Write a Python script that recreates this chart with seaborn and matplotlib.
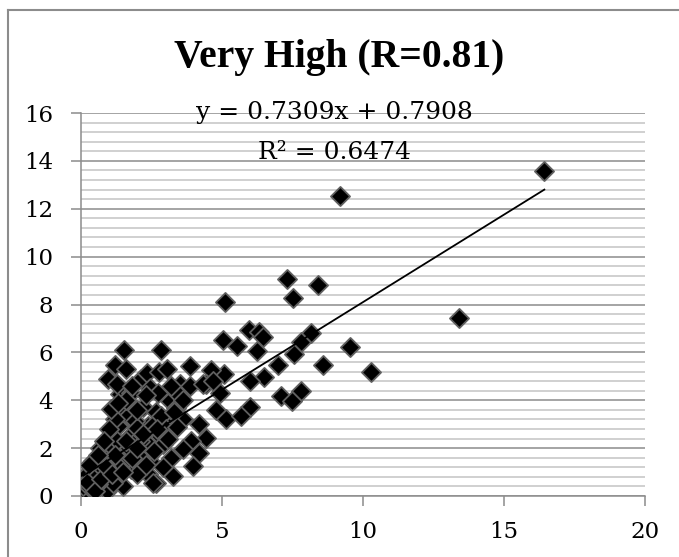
import matplotlib
matplotlib.use("Agg")
import numpy as np
import pandas as pd
import seaborn as sns
import matplotlib.pyplot as plt
from matplotlib.ticker import MultipleLocator
from matplotlib.lines import Line2D

# values
x_vals = [16.43, 9.18, 13.40, 8.42, 9.54, 10.27, 8.59, 8.17, 7.80, 7.80, 7.29, 7.50,
          5.09, 5.94, 6.30, 6.45, 5.05, 5.54, 6.23, 7.54, 7.00, 6.48, 6.00, 5.08,
          4.62, 4.44, 4.93, 7.09, 7.48, 6.00, 4.79, 5.15, 5.68,
          1.52, 2.85, 1.20, 0.97, 1.58, 2.14, 2.34, 2.76, 3.05, 3.85, 3.50, 3.85,
          4.32, 4.68, 1.38, 1.76, 2.44, 2.73, 3.14, 3.38, 1.26,
          1.14, 1.47, 2.20, 2.67, 1.67, 2.38, 1.32, 1.91, 2.91, 3.62, 4.20, 4.44,
          3.91, 4.20, 3.97, 3.26, 3.62, 3.20, 2.79, 2.44, 2.91, 2.08, 1.73, 1.38,
          1.02, 1.97, 2.44, 2.38, 2.67, 1.79, 1.49, 1.32, 0.91, 0.79, 0.67, 0.43,
          0.91, 0.38, 0.14, 0.26, 0.55, 1.14, 0.67, 0.32,
          1.20, 1.97, 2.50, 2.85, 1.26, 1.85, 0.55, 1.14, 1.61, 2.14, 0.20, 0.79,
          1.38, 0.08, 0.49, 1.97, 0.32, 1.08, 2.56,
          0.60, 1.00, 1.70, 2.20, 3.00, 3.30, 3.40, 2.00, 1.60, 1.00, 0.40, 0.90,
          0.20, 0.50, 0.70, 0.90, 1.10, 1.20, 1.50, 1.60, 1.80, 2.00, 2.30, 2.60,
          2.70, 3.10, 3.40, 1.00, 0.80, 1.30, 1.80, 2.30, 3.20, 3.60, 0.30, 0.60,
          2.90]
y_vals = [13.56, 12.52, 7.43, 8.80, 6.21, 5.19, 5.47, 6.81, 6.45, 4.39, 9.07, 8.26,
          8.12, 6.95, 6.85, 6.65, 6.51, 6.28, 6.04, 5.95, 5.47, 4.98, 4.81, 5.08,
          5.28, 4.69, 4.32, 4.18, 3.95, 3.72, 3.60, 3.21, 3.35,
          6.10, 6.12, 5.47, 4.90, 5.30, 4.88, 5.12, 5.16, 5.30, 5.44, 4.67, 4.60,
          4.67, 4.81, 4.26, 4.32, 4.53, 4.32, 3.97, 3.69, 4.67,
          3.69, 3.70, 3.73, 3.49, 3.35, 2.93, 2.93, 3.14, 3.14, 3.21, 3.00, 2.44,
          2.30, 1.81, 1.26, 0.84, 1.95, 1.60, 2.51, 2.09, 2.16, 2.30, 2.51, 2.16,
          2.51, 1.74, 1.46, 0.91, 0.56, 1.12, 0.42, 1.33, 0.97, 1.74, 2.02, 1.46,
          0.21, 0.56, 0.35, 0.07, 0.91, 0.56, 1.18, 1.05,
          3.21, 2.86, 2.93, 3.35, 2.30, 2.16, 1.39, 1.39, 1.53, 1.60, 0.91, 1.05,
          1.18, 0.42, 0.63, 0.91, 0.35, 3.62, 0.56,
          0.50, 1.60, 2.00, 2.60, 2.80, 3.50, 4.30, 3.60, 4.00, 1.90, 0.80, 1.50,
          0.60, 0.20, 0.70, 1.20, 0.90, 1.70, 1.00, 2.30, 1.60, 2.00, 1.30, 1.90,
          2.80, 2.40, 2.90, 2.80, 2.30, 3.90, 4.60, 4.20, 4.60, 4.00, 1.30, 1.70,
          1.20]
slope = 0.7309
intercept = 0.7908
r_squared = 0.6474
title = "Very High (R=0.81)"

df = pd.DataFrame({"x": x_vals, "y": y_vals})

plt.rcParams["font.family"] = ["DejaVu Serif"]
fig = plt.figure(figsize=(6.79, 5.57), dpi=100)
ax = fig.add_axes([81 / 679, 1 - 496 / 557, 564 / 679, 383 / 557])

sns.scatterplot(data=df, x="x", y="y", marker="D", s=95, color="black",
                edgecolor="#606060", linewidth=1.3, ax=ax, zorder=3, legend=False)

# trend line over the data range
xs = np.array([df["x"].min(), df["x"].max()])
ax.plot(xs, slope * xs + intercept, color="black", lw=1.3, zorder=4)

ax.set_xlim(0, 20)
ax.set_ylim(0, 16)
ax.xaxis.set_major_locator(MultipleLocator(5))
ax.yaxis.set_major_locator(MultipleLocator(2))
ax.yaxis.set_minor_locator(MultipleLocator(0.4))
ax.grid(which="major", axis="y", color="#8c8c8c", lw=1.1, zorder=0)
ax.grid(which="minor", axis="y", color="#c4c4c4", lw=1.1, zorder=0)
ax.set_axisbelow(True)
ax.set_xlabel("")
ax.set_ylabel("")
for side in ["top", "right"]:
    ax.spines[side].set_visible(False)
for side in ["left", "bottom"]:
    ax.spines[side].set_color("#8c8c8c")
    ax.spines[side].set_linewidth(1.1)
ax.tick_params(which="major", length=7, width=1.1, color="#8c8c8c",
               labelsize=16.5)
ax.tick_params(axis="y", pad=13)
ax.tick_params(axis="x", pad=11)
ax.tick_params(which="minor", length=0)

ax.text(9.0, 16.0, f"y = {slope}x + {intercept}", ha="center", va="center",
        fontsize=18, zorder=5)
ax.text(9.0, 14.35, f"R² = {r_squared}", ha="center", va="center",
        fontsize=18, zorder=5)

fig.text(0.5, 1 - 58 / 557, title, ha="center", va="center",
         fontsize=28.5, fontweight="bold", family=["Liberation Serif"])

# chart border (left and top edges visible)
fig.add_artist(Line2D([8 / 679, 8 / 679], [0, 1 - 10 / 557], color="#8c8c8c",
                      lw=1.5, transform=fig.transFigure))
fig.add_artist(Line2D([8 / 679, 1], [1 - 10 / 557, 1 - 10 / 557], color="#8c8c8c",
                      lw=1.5, transform=fig.transFigure))

fig.savefig("out.png", dpi=100)
